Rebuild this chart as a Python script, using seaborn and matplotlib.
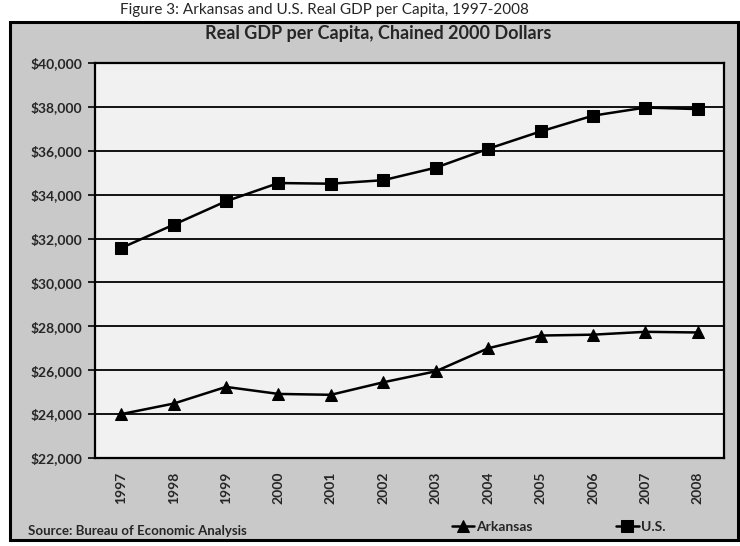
import matplotlib
matplotlib.use("Agg")
import matplotlib.pyplot as plt
import matplotlib.patches as mpatches
import seaborn as sns
import pandas as pd

years = [1997, 1998, 1999, 2000, 2001, 2002, 2003, 2004, 2005, 2006, 2007, 2008]
arkansas = [24000, 24480, 25240, 24920, 24880, 25450, 25950, 27000, 27580, 27620, 27750, 27720]
us = [31570, 32630, 33700, 34530, 34500, 34660, 35230, 36090, 36880, 37600, 37970, 37900]
series_names = ["Arkansas", "U.S."]
y_ticks = [22000, 24000, 26000, 28000, 30000, 32000, 34000, 36000, 38000, 40000]

df = pd.DataFrame({
    "Year": years * 2,
    "Value": arkansas + us,
    "Series": [series_names[0]] * len(years) + [series_names[1]] * len(years),
})

sns.set_theme(style="white")
plt.rcParams["font.family"] = ["Lato", "DejaVu Sans"]

fig = plt.figure(figsize=(7.4, 5.46), dpi=100)
fig.patch.set_facecolor("white")

W, H = 740, 546
# outer gray chart frame
frame = mpatches.Rectangle((10 / W, 1 - 540 / H), 728 / W, (540 - 22) / H,
                           transform=fig.transFigure, facecolor="#c9c9c9",
                           edgecolor="black", linewidth=2.2, zorder=-5)
fig.patches.append(frame)

ax = fig.add_axes([95 / W, 1 - 458 / H, (724 - 95) / W, (458 - 63) / H])
ax.set_zorder(2)
ax.set_facecolor("#f1f1f1")

sns.lineplot(data=df, x="Year", y="Value", hue="Series", style="Series",
             markers={"Arkansas": "^", "U.S.": "s"}, dashes=False,
             palette={"Arkansas": "black", "U.S.": "black"},
             markersize=8, linewidth=1.8, markeredgecolor="black", ax=ax)

ax.set_xlim(years[0] - 0.5, years[-1] + 0.5)
ax.set_ylim(22000, 40000)
ax.set_yticks(y_ticks)
ax.set_yticklabels([f"${v:,}" for v in y_ticks], fontsize=10, fontweight="bold")
ax.set_xticks(years)
ax.set_xticklabels([str(y) for y in years], rotation=90, fontsize=10, fontweight="bold")
ax.tick_params(axis="y", length=5, width=1.2, color="black", pad=4, left=True)
ax.tick_params(axis="x", length=0, pad=10)
ax.set_xlabel("")
ax.set_ylabel("")
ax.grid(axis="y", color="black", linewidth=1.3)
ax.set_axisbelow(True)
for s in ax.spines.values():
    s.set_color("black")
    s.set_linewidth(1.6)

handles, labels = ax.get_legend_handles_labels()
ax.legend_.remove()
fig.legend(handles, labels, loc="center", bbox_to_anchor=(0.755, 1 - 527 / H),
           ncol=2, frameon=False, prop={"weight": "bold", "size": 10},
           columnspacing=6, handlelength=1.6, handletextpad=0.2)

fig.text(378 / W, 1 - 33 / H, "Real GDP per Capita, Chained 2000 Dollars",
         ha="center", va="center", fontsize=13, fontweight="bold")
fig.text(28 / W, 1 - 531 / H, "Source: Bureau of Economic Analysis",
         ha="left", va="center", fontsize=9.5, fontweight="bold")
fig.text(120 / W, 1 - 10 / H, "Figure 3: Arkansas and U.S. Real GDP per Capita, 1997-2008",
         ha="left", va="center", fontsize=11)

fig.savefig("out.png", dpi=100, facecolor=fig.get_facecolor())
